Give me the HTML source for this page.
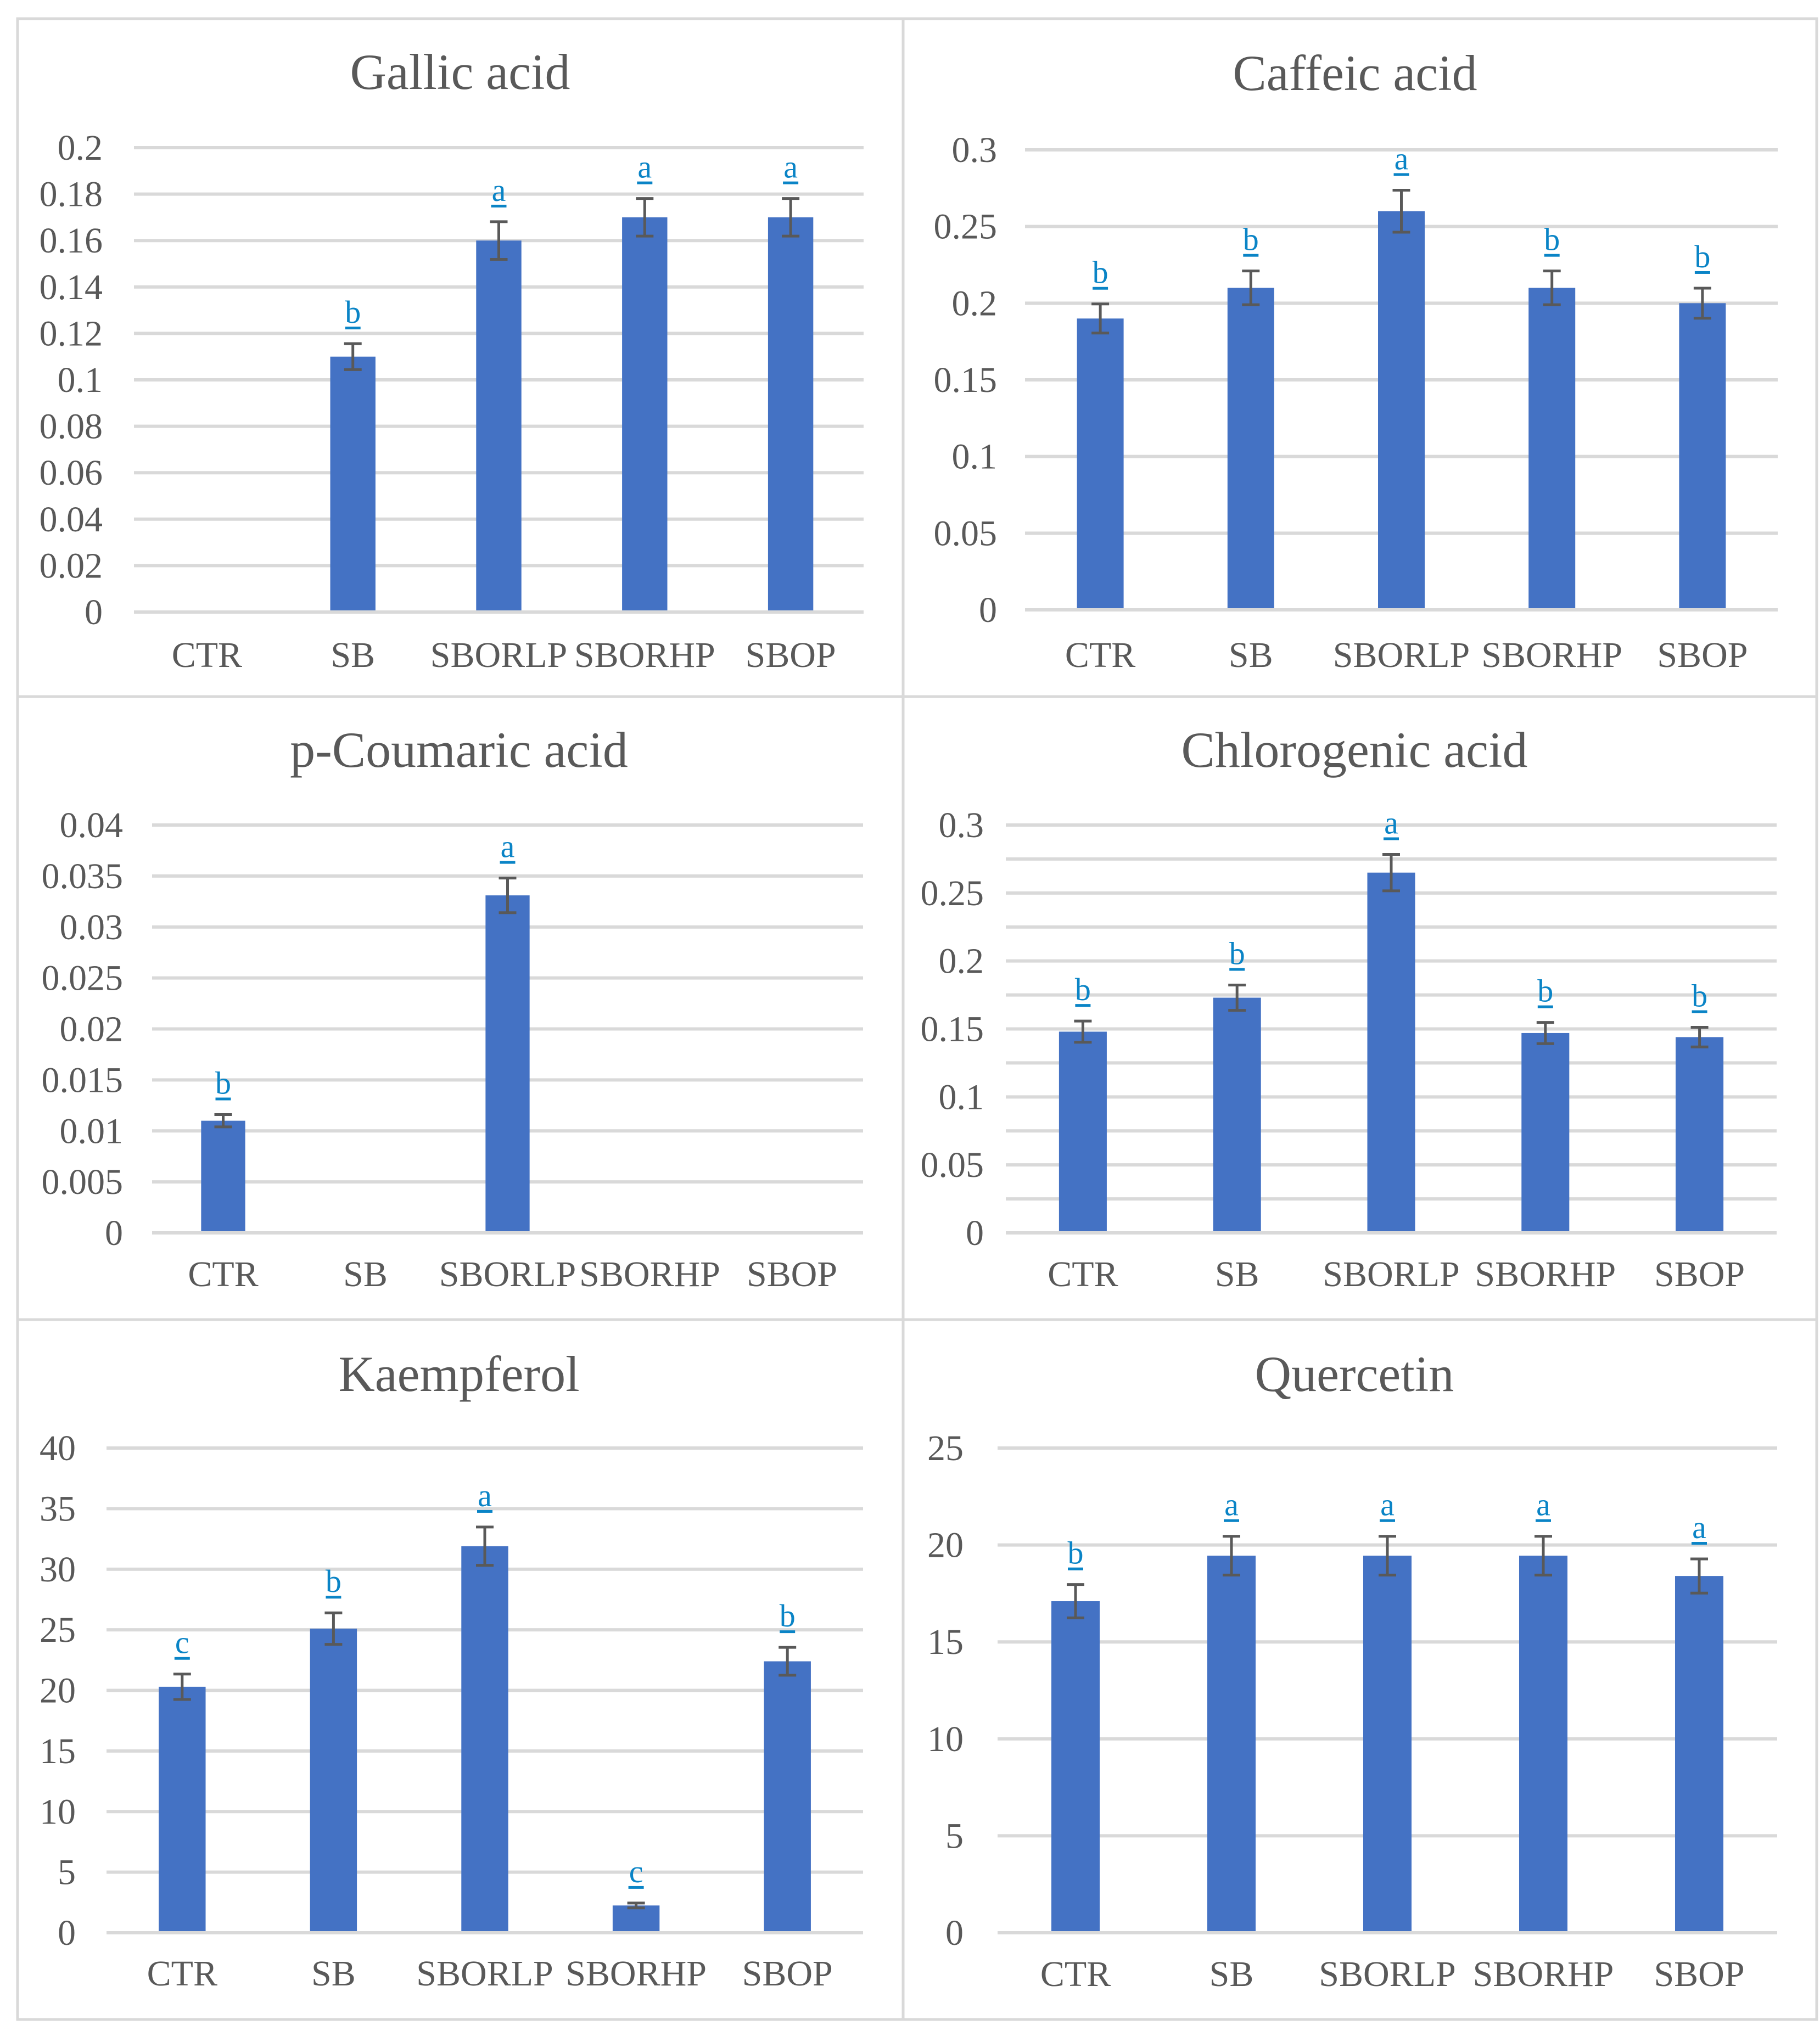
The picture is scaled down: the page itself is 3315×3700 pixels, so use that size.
<!DOCTYPE html>
<html><head><meta charset="utf-8">
<style>
html,body{margin:0;padding:0;background:#fff;}
svg{display:block;}
text{font-family:"Liberation Serif","Times New Roman",serif;fill:#595959;}
</style></head>
<body>
<svg id="fig" width="3315" height="3700" viewBox="0 0 3315 3700" xmlns="http://www.w3.org/2000/svg">
<rect x="0" y="0" width="3315" height="3700" fill="#fff"/>
<g id="frames" fill="none" stroke="#D9D9D9" stroke-width="5">
<rect x="32" y="34" width="3277" height="3645"/>
<line x1="1645" y1="34" x2="1645" y2="3679"/>
<line x1="32" y1="1269" x2="3309" y2="1269"/>
<line x1="32" y1="2404" x2="3309" y2="2404"/>
</g>
</svg>
<script>
const categories = ["CTR","SB","SBORLP","SBORHP","SBOP"];

const gallicValues = [0, 0.11, 0.16, 0.17, 0.17];
const gallicErrors = [0, 0.0056, 0.0081, 0.0081, 0.0081];
const gallicLetters = ["", "b", "a", "a", "a"];
const gallicTicks = ["0","0.02","0.04","0.06","0.08","0.1","0.12","0.14","0.16","0.18","0.2"];

const caffeicValues = [0.19, 0.21, 0.26, 0.21, 0.20];
const caffeicErrors = [0.0095, 0.011, 0.0137, 0.011, 0.0098];
const caffeicLetters = ["b", "b", "a", "b", "b"];
const caffeicTicks = ["0","0.05","0.1","0.15","0.2","0.25","0.3"];

const coumaricValues = [0.011, 0, 0.0331, 0, 0];
const coumaricErrors = [0.0006, 0, 0.0017, 0, 0];
const coumaricLetters = ["b", "", "a", "", ""];
const coumaricTicks = ["0","0.005","0.01","0.015","0.02","0.025","0.03","0.035","0.04"];

const chlorogenicValues = [0.148, 0.173, 0.265, 0.147, 0.144];
const chlorogenicErrors = [0.0078, 0.0093, 0.0134, 0.0078, 0.0072];
const chlorogenicLetters = ["b", "b", "a", "b", "b"];
const chlorogenicTicks = ["0","0.05","0.1","0.15","0.2","0.25","0.3"];

const kaempferolValues = [20.3, 25.1, 31.9, 2.25, 22.4];
const kaempferolErrors = [1.05, 1.3, 1.58, 0.2, 1.15];
const kaempferolLetters = ["c", "b", "a", "c", "b"];
const kaempferolTicks = ["0","5","10","15","20","25","30","35","40"];

const quercetinValues = [17.1, 19.45, 19.45, 19.45, 18.4];
const quercetinErrors = [0.86, 1.0, 1.0, 1.0, 0.88];
const quercetinLetters = ["b", "a", "a", "a", "a"];
const quercetinTicks = ["0","5","10","15","20","25"];

const NS = "http://www.w3.org/2000/svg";
const svg = document.getElementById("fig");
function mk(tag, attrs, parent){
  const e = document.createElementNS(NS, tag);
  for (const k in attrs) e.setAttribute(k, attrs[k]);
  parent.appendChild(e);
  return e;
}

function panel(cfg){
  const g = mk("g", {}, svg);
  
  
  const t = mk("text", {x: cfg.tx, y: cfg.ty, "text-anchor": "middle", "font-size": 92}, g);
  t.textContent = cfg.title;
  
  
  const ticks = cfg.ticks.map(Number);
  const vmax = ticks[ticks.length - 1];
  const y = v => cfg.y1 - (v / vmax) * (cfg.y1 - cfg.y0);
  const catW = (cfg.x1 - cfg.x0) / categories.length;
  const xc = i => cfg.x0 + catW * (i + 0.5);
  const nGrid = cfg.gridSteps || (ticks.length - 1);
  for (let k = 0; k <= nGrid; k++){
    const v = vmax * k / nGrid;
    const ln = mk("line", {x1: cfg.x0, x2: cfg.x1, y1: y(v), y2: y(v), stroke: "#D9D9D9", "stroke-width": 6}, g);
    
    
  }
  cfg.ticks.forEach(lbl => {
    const tt = mk("text", {x: cfg.lx, y: y(Number(lbl)) + 22, "text-anchor": "end", "font-size": 66}, g);
    tt.textContent = lbl;
    
    
  });
  const bw = catW * 0.31;
  cfg.values.forEach((v, i) => {
    if (v > 0){
      const r = mk("rect", {x: xc(i) - bw/2, y: y(v), width: bw, height: y(0) - y(v) - 3, fill: "#4472C4"}, g);
      
      
      const e = cfg.errors[i];
      const eg = mk("g", {stroke: "#595959", "stroke-width": 5}, g);
      
      
      mk("line", {x1: xc(i), x2: xc(i), y1: y(v + e), y2: y(v - e)}, eg);
      mk("line", {x1: xc(i) - 16, x2: xc(i) + 16, y1: y(v + e), y2: y(v + e)}, eg);
      mk("line", {x1: xc(i) - 16, x2: xc(i) + 16, y1: y(v - e), y2: y(v - e)}, eg);
    }
    if (cfg.letters[i]){
      const top = y(v + cfg.errors[i]);
      const lt = mk("text", {x: xc(i), y: top - 38, "text-anchor": "middle", "font-size": 58, style: "fill:#0A84C6"}, g);
      lt.textContent = cfg.letters[i];
      
      
      const ul = mk("rect", {x: xc(i) - 14, y: top - 31, width: 28, height: 5, fill: "#0A84C6"}, g);
      
      
    }
  });
  categories.forEach((c, i) => {
    const xt = mk("text", {x: xc(i), y: cfg.xly, "text-anchor": "middle", "font-size": 66}, g);
    xt.textContent = c;
    
    
  });
}

panel({slug:"gallic-acid", title:"Gallic acid", tx:838, ty:162, x0:244, x1:1573, y0:269, y1:1115, lx:187, xly:1215,
  ticks:gallicTicks, values:gallicValues, errors:gallicErrors, letters:gallicLetters});
panel({slug:"caffeic-acid", title:"Caffeic acid", tx:2468, ty:164, x0:1867, x1:3238, y0:273, y1:1111, lx:1816, xly:1215,
  ticks:caffeicTicks, values:caffeicValues, errors:caffeicErrors, letters:caffeicLetters});
panel({slug:"p-coumaric-acid", title:"p-Coumaric acid", tx:836, ty:1397, x0:277, x1:1572, y0:1503, y1:2246, lx:224, xly:2343,
  ticks:coumaricTicks, values:coumaricValues, errors:coumaricErrors, letters:coumaricLetters});
panel({slug:"chlorogenic-acid", title:"Chlorogenic acid", tx:2467, ty:1397, x0:1832, x1:3236, y0:1503, y1:2246, lx:1792, xly:2343, gridSteps:12,
  ticks:chlorogenicTicks, values:chlorogenicValues, errors:chlorogenicErrors, letters:chlorogenicLetters});
panel({slug:"kaempferol", title:"Kaempferol", tx:836, ty:2534, x0:194, x1:1572, y0:2638, y1:3521, lx:138, xly:3617,
  ticks:kaempferolTicks, values:kaempferolValues, errors:kaempferolErrors, letters:kaempferolLetters});
panel({slug:"quercetin", title:"Quercetin", tx:2467, ty:2534, x0:1817, x1:3237, y0:2638, y1:3521, lx:1755, xly:3618,
  ticks:quercetinTicks, values:quercetinValues, errors:quercetinErrors, letters:quercetinLetters});
</script>
</body></html>
